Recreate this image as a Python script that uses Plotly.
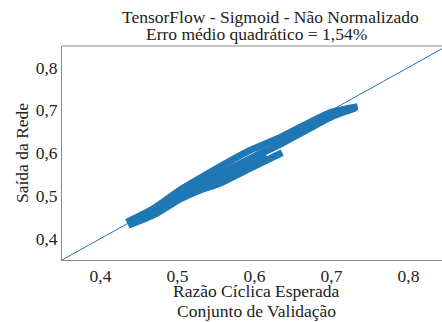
import plotly.graph_objects as go

# Validation set: expected duty cycle vs network output
strand1_expected = [0.434, 0.468, 0.503, 0.529, 0.594, 0.633, 0.698, 0.734]
strand1_output   = [0.438, 0.469, 0.513, 0.541, 0.606, 0.636, 0.694, 0.708]
strand2_expected = [0.436, 0.471, 0.503, 0.529, 0.555, 0.594, 0.636]
strand2_output   = [0.431, 0.457, 0.492, 0.513, 0.529, 0.564, 0.601]
strand3_expected = [0.480, 0.520, 0.560, 0.594, 0.633, 0.659, 0.698, 0.731]
strand3_output   = [0.482, 0.520, 0.556, 0.586, 0.620, 0.645, 0.683, 0.705]
strand4_expected = [0.500, 0.540, 0.580, 0.615]
strand4_output   = [0.503, 0.530, 0.565, 0.596]

ideal = [0.3, 0.9]
tick_vals = [0.4, 0.5, 0.6, 0.7, 0.8]
tick_text = ["0,4", "0,5", "0,6", "0,7", "0,8"]

title_line1 = "TensorFlow - Sigmoid - Não Normalizado"
title_line2 = "Erro médio quadrático = 1,54%"
xlabel1 = "Razão Cíclica Esperada"
xlabel2 = "Conjunto de Validação"
ylabel = "Saída da Rede"

blue = "#1f77b4"
font = "Liberation Serif"
txt = "#222"

fig = go.Figure()
fig.add_trace(go.Scatter(x=ideal, y=ideal, mode="lines",
                         line=dict(color=blue, width=1), hoverinfo="skip"))
for xs, ys in [(strand1_expected, strand1_output),
               (strand2_expected, strand2_output),
               (strand3_expected, strand3_output),
               (strand4_expected, strand4_output)]:
    fig.add_trace(go.Scatter(x=xs, y=ys, mode="lines",
                             line=dict(color=blue, width=7, shape="spline", smoothing=0.6)))

pw, ph = 442 - 62, 322 - 46 - 62


def ann(text, px, py, size, angle=0):
    return dict(text=text, x=(px - 62) / pw, y=(260 - py) / ph,
                xref="paper", yref="paper", showarrow=False, textangle=angle,
                xanchor="center", yanchor="middle",
                font=dict(family=font, size=size, color=txt))


fig.update_layout(
    width=442, height=322,
    margin=dict(l=62, r=0, t=46, b=62),
    paper_bgcolor="white", plot_bgcolor="white",
    showlegend=False,
    font=dict(family=font, size=17, color=txt),
    xaxis=dict(range=[0.35, 0.8435], tickvals=tick_vals, ticktext=tick_text,
               showgrid=False, zeroline=False, showline=True, linecolor="#888",
               linewidth=1, ticks="", tickfont=dict(family=font, size=17.5, color=txt)),
    yaxis=dict(range=[0.35, 0.85], tickvals=tick_vals, ticktext=tick_text,
               showgrid=False, zeroline=False, showline=True, linecolor="#888",
               linewidth=1, ticks="", tickfont=dict(family=font, size=17.5, color=txt)),
    shapes=[dict(type="line", xref="paper", yref="paper", x0=0, x1=1, y0=1, y1=1,
                 line=dict(color="#888", width=1))],
    annotations=[
        ann(title_line1, 270, 17, 17.5),
        ann(title_line2, 256, 34, 17.5),
        ann(xlabel1, 256, 291, 17.5),
        ann(xlabel2, 256, 311, 17.5),
        ann(ylabel, 22, 153, 17.5, -90),
    ],
)

fig.write_html("out.html", config={"displayModeBar": False},
               post_script="document.body.style.margin='0';document.body.style.overflow='hidden';")
